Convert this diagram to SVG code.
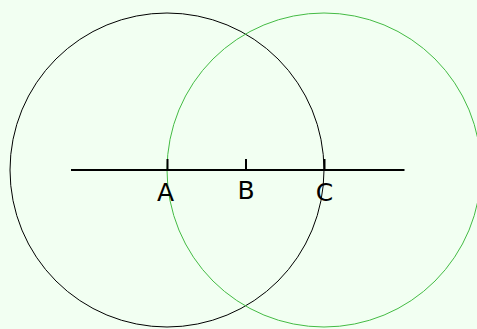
<svg xmlns="http://www.w3.org/2000/svg" width="477" height="329" viewBox="0 0 477 329">
<style>
.lbl{font-family:"DejaVu Sans",sans-serif;font-size:25px;fill:#000;text-anchor:middle}
.tick{stroke:#000;stroke-width:2}
</style>
<rect width="477" height="329" fill="#f2fff2"/>
<g id="circleA"><circle cx="167" cy="170" r="157" fill="none" stroke="#000" stroke-width="1"/></g>
<g id="circleC"><circle cx="324" cy="170" r="157" fill="none" stroke="#44bb44" stroke-width="1"/></g>
<g id="connectors">
<line x1="71" y1="170" x2="404.5" y2="170" stroke="#000" stroke-width="2"/>
<line class="tick" x1="167.5" y1="159" x2="167.5" y2="170"/>
<line class="tick" x1="246" y1="159" x2="246" y2="170"/>
<line class="tick" x1="324.5" y1="159" x2="324.5" y2="170"/>
</g>
<g id="labelA"><text class="lbl" x="165.5" y="201">A</text></g>
<g id="labelB"><text class="lbl" x="246" y="199">B</text></g>
<g id="labelC"><text class="lbl" x="324.5" y="201">C</text></g>
</svg>
